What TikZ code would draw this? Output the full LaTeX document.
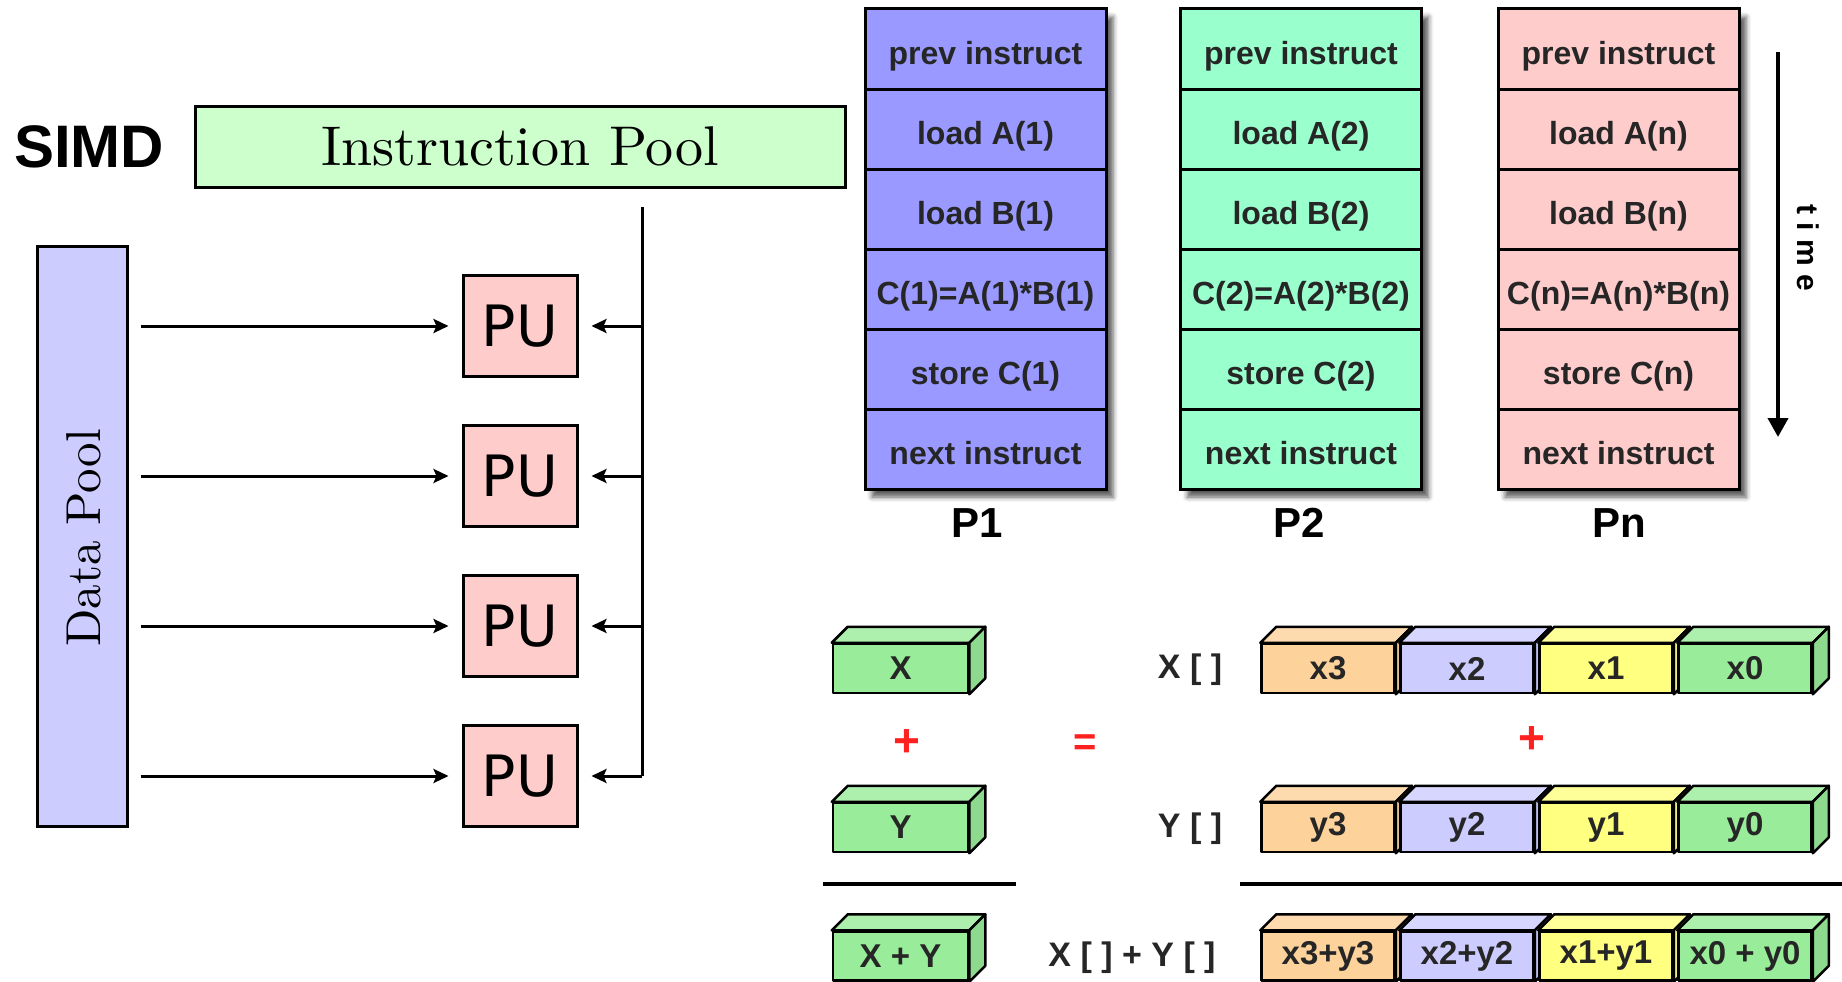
\documentclass[tikz,border=0pt]{standalone}
\usepackage{fontspec}
\newfontfamily\arialf{Liberation Sans}
\newfontfamily\dvsans{DejaVu Sans}
\newfontfamily\cmten{lmroman10-regular.otf}
\usetikzlibrary{arrows.meta,shadows.blur}

\definecolor{poolgreen}{HTML}{CCFFCC}
\definecolor{poolblue}{HTML}{CCCCFF}
\definecolor{pupink}{HTML}{FFCCCC}
\definecolor{procA}{HTML}{9999FF}
\definecolor{procB}{HTML}{99FFCC}
\definecolor{procN}{HTML}{FFCCCC}
\definecolor{lanepeach}{HTML}{FDD29B}
\definecolor{lanelav}{HTML}{CCCCFF}
\definecolor{laneyel}{HTML}{FFFF80}
\definecolor{lanegreen}{HTML}{99EC99}
\definecolor{plusred}{HTML}{FF2020}

\tikzset{
  wire/.style={line width=3pt},
  pool/.style={draw, line width=3pt, inner sep=0pt},
  pubox/.style={draw, line width=3pt, fill=pupink, minimum width=114pt,
    minimum height=101pt, inner sep=0pt, font=\dvsans\fontsize{57}{60}\selectfont},
  feed/.style={wire, -{Stealth[length=15pt,width=14pt,inset=3pt]}, shorten >=13pt},
  colframe/.style={draw, line width=3pt, minimum width=241pt, minimum height=480pt, inner sep=0pt},
  stagecell/.style={draw, line width=3pt, minimum width=241pt, minimum height=80pt,
    inner sep=0pt, text height=31pt, text depth=0pt, text=black!85,
    font=\arialf\bfseries\fontsize{32}{38}\selectfont},
  proclabel/.style={font=\arialf\bfseries\fontsize{42}{48}\selectfont},
  cubefront/.style={draw, line width=2.5pt, line join=round, minimum height=49pt,
    inner sep=0pt, text=black!85, font=\arialf\bfseries\fontsize{33}{38}\selectfont},
  cubeface/.style={draw, line width=2.5pt, line join=round},
  veclabel/.style={text=black!85, font=\arialf\bfseries\fontsize{34}{40}\selectfont},
  redop/.style={text=plusred, font=\arialf\bfseries\fontsize{46}{50}\selectfont},
  sumrule/.style={line width=4pt},
}

% a register cell drawn as a small cuboid: name, x, y, width, colour, text
\newcommand\vecbox[6]{%
  \node[cubefront, fill=#5, minimum width=#4] (#1) at (#2,#3) {#6};
  \draw[cubeface, fill=#5!80!white] (#1.north west) -- ++(16,-16)
     -- ([shift={(16,-16)}]#1.north east) -- (#1.north east) -- cycle;
  \draw[cubeface, fill=#5!92!black] (#1.north east) -- ++(16,-16)
     -- ([shift={(16,-16)}]#1.south east) -- (#1.south east) -- cycle;
}

\begin{document}
\begin{tikzpicture}[x=1pt,y=-1pt]
\path[use as bounding box] (0,0) rectangle (1842,982);

% ---------- SIMD organisation ----------
\node[font=\arialf\bfseries\fontsize{60}{64}\selectfont] (simd) at (89,147) {SIMD};
\node[pool, fill=poolgreen, minimum width=650pt, minimum height=81pt,
      font=\cmten\fontsize{56}{62}\selectfont] (ipool) at (520,146.5) {Instruction Pool};

\node[pool, fill=poolblue, minimum width=90pt, minimum height=580pt] (dpool) at (82,536) {};
\node[rotate=90, font=\cmten\fontsize{49}{56}\selectfont] (dlabel) at (84,538) {Data Pool};

\node[pubox] (pu1) at (520,326) {PU};
\node[pubox] (pu2) at (520,476) {PU};
\node[pubox] (pu3) at (520,626) {PU};
\node[pubox] (pu4) at (520,776) {PU};

% instruction bus
\coordinate (bustop) at (642,207);
\draw[wire] (bustop) -- (bustop |- pu4);
\foreach \k in {1,2,3,4}{
  \draw[feed] (bustop |- pu\k) -- (pu\k.east);
  \draw[feed, shorten <=12pt] (dpool.east |- pu\k) -- (pu\k.west);
}

% ---------- instruction streams per processor ----------
\foreach \col/\cx/\lx/\clr/\idx/\lab in {pa/985.5/977/procA/1/P1, pb/1301/1299/procB/2/P2, pn/1618.5/1619/procN/n/Pn}{
  \node[colframe, fill=\clr, blur shadow={shadow xshift=7pt, shadow yshift=-8pt,
        shadow blur radius=5pt, shadow opacity=65}] (\col) at (\cx,249) {};
  \node[stagecell, fill=\clr] (\col-1) at (\cx,49)  {prev instruct};
  \node[stagecell, fill=\clr] (\col-2) at (\cx,129) {load A(\idx)};
  \node[stagecell, fill=\clr] (\col-3) at (\cx,209) {load B(\idx)};
  \node[stagecell, fill=\clr] (\col-4) at (\cx,289) {C(\idx)=A(\idx)*B(\idx)};
  \node[stagecell, fill=\clr] (\col-5) at (\cx,369) {store C(\idx)};
  \node[stagecell, fill=\clr] (\col-6) at (\cx,449) {next instruct};
  \node[proclabel] (\col-lab) at (\lx,523) {\lab};
}

% time axis
\coordinate (tstart) at (1778,52);
\coordinate (tend) at (1778,437);
\draw[line width=4pt, -{Triangle[length=19pt,width=20pt]}] (tstart) -- (tend);
\node[rotate=-90, font=\arialf\bfseries\fontsize{30}{34}\selectfont] (tlabel) at (1808,248) {t i m e};

% ---------- scalar vs. vector addition ----------
\vecbox{sx}{900.5}{668.5}{135}{lanegreen}{X}
\vecbox{sy}{900.5}{827.5}{135}{lanegreen}{Y}
\vecbox{ss}{900.5}{956}{135}{lanegreen}{X + Y}

\node[redop] (splus) at (907,743) {+};
\node[redop, font=\arialf\bfseries\fontsize{40}{44}\selectfont] (equal) at (1085,745) {=};

\node[veclabel] (lx) at (1190,670) {X [ ]};
\node[veclabel] (ly) at (1190,829) {Y [ ]};
\node[veclabel] (ls) at (1132,958) {X [ ] + Y [ ]};

\vecbox{xa3}{1328}{668.5}{133}{lanepeach}{x3}
\vecbox{xa2}{1467}{668.5}{133}{lanelav}{x2}
\vecbox{xa1}{1606}{668.5}{133}{laneyel}{x1}
\vecbox{xa0}{1745}{668.5}{133}{lanegreen}{x0}

\node[redop] (vplus) at (1532,740) {+};

\vecbox{ya3}{1328}{827.5}{133}{lanepeach}{y3}
\vecbox{ya2}{1467}{827.5}{133}{lanelav}{y2}
\vecbox{ya1}{1606}{827.5}{133}{laneyel}{y1}
\vecbox{ya0}{1745}{827.5}{133}{lanegreen}{y0}

\vecbox{sa3}{1328}{956}{133}{lanepeach}{x3+y3}
\vecbox{sa2}{1467}{956}{133}{lanelav}{x2+y2}
\vecbox{sa1}{1606}{956}{133}{laneyel}{x1+y1}
\vecbox{sa0}{1745}{956}{133}{lanegreen}{x0 + y0}

% result rules
\coordinate (rl1) at (823,884);
\coordinate (rl2) at (1016,884);
\coordinate (rr1) at (1240,884);
\coordinate (rr2) at (1842,884);
\draw[sumrule] (rl1) -- (rl2);
\draw[sumrule] (rr1) -- (rr2);
\end{tikzpicture}
\end{document}
